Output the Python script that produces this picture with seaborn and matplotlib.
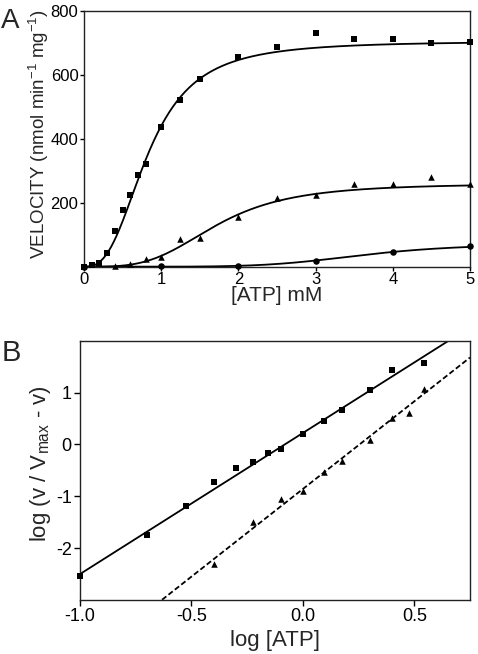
import numpy as np
import matplotlib
matplotlib.use("Agg")
import matplotlib.pyplot as plt
import seaborn as sns

# Panel A: velocity vs [ATP] (mM)
atp_sq = [0, 0.1, 0.2, 0.3, 0.4, 0.5, 0.6, 0.7, 0.8, 1.0, 1.25, 1.5, 2, 2.5, 3, 3.5, 4, 4.5, 5]
vel_sq = [0, 4, 12, 44, 112, 178, 225, 288, 321, 437, 521, 586, 655, 686, 729, 711, 712, 698, 702]
atp_tri = [0.4, 0.6, 0.8, 1.0, 1.25, 1.5, 2, 2.5, 3, 3.5, 4, 4.5, 5]
vel_tri = [2, 7, 23, 31, 86, 91, 155, 215, 225, 259, 259, 280, 257]
atp_circ = [0, 1, 2, 3, 4, 5]
vel_circ = [0, 1, 2, 18, 45, 64]

# Hill fit parameters (Vmax, K0.5, n) for the curves in A
fit_sq = (705, 0.83, 2.72)
fit_tri = (260, 1.72, 3.5)
fit_circ = (72, 3.6, 5.5)

# Panel B: Hill plot, log[ATP] vs log(v/(Vmax-v))
logatp_sq = [-1.0, -0.699, -0.523, -0.398, -0.301, -0.222, -0.155, -0.097, 0.0, 0.097, 0.176, 0.301, 0.398, 0.544]
hill_sq = [-2.54, -1.74, -1.18, -0.725, -0.46, -0.33, -0.17, -0.08, 0.21, 0.45, 0.67, 1.05, 1.44, 1.56]
logatp_tri = [-0.398, -0.222, -0.097, 0.0, 0.097, 0.176, 0.301, 0.398, 0.477, 0.544]
hill_tri = [-2.31, -1.49, -1.06, -0.90, -0.53, -0.32, 0.09, 0.51, 0.60, 1.06]

# linear fits (slope, intercept) for B
line_sq = (2.72, 0.22)
line_tri = (3.38, -0.86)

sns.set_style("ticks")
plt.rcParams['font.family'] = ['Liberation Sans', 'DejaVu Sans']
plt.rcParams['mathtext.fontset'] = 'custom'
plt.rcParams['mathtext.rm'] = 'Liberation Sans'
plt.rcParams['mathtext.it'] = 'Liberation Sans:italic'
plt.rcParams['axes.unicode_minus'] = False

fig = plt.figure(figsize=(4.78, 6.54), dpi=100)
axA = fig.add_axes([0.1757, 0.5922, 0.8075, 0.3914])
axB = fig.add_axes([0.1674, 0.0826, 0.8159, 0.3965])


def hill(x, p):
    vmax, k, n = p
    return vmax * x**n / (k**n + x**n)


xs = np.linspace(0, 5, 300)
for p in (fit_sq, fit_tri, fit_circ):
    sns.lineplot(x=xs, y=hill(xs, p), ax=axA, color='black', lw=1.3)

sns.scatterplot(x=atp_sq, y=vel_sq, ax=axA, marker='s', s=20, color='black', linewidth=0, clip_on=False, zorder=3)
sns.scatterplot(x=atp_tri, y=vel_tri, ax=axA, marker='^', s=22, color='black', linewidth=0, clip_on=False, zorder=3)
sns.scatterplot(x=atp_circ, y=vel_circ, ax=axA, marker='o', s=22, color='black', linewidth=0, clip_on=False, zorder=3)

axA.set_xlim(0, 5)
axA.set_ylim(0, 800)
axA.set_xticks([0, 1, 2, 3, 4, 5])
axA.set_yticks([200, 400, 600, 800])
axA.set_xlabel('[ATP] mM', fontsize=15)
axA.set_ylabel(r'VELOCITY (nmol min$^{-1}$ mg$^{-1}$)', fontsize=13.5)
axA.xaxis.set_label_coords(0.5, -0.075)
axA.yaxis.set_label_coords(-0.085, 0.52)
axA.tick_params(labelsize=12, length=3, pad=1)

xl = np.array([-1.0, 0.75])
sns.lineplot(x=xl, y=line_sq[0] * xl + line_sq[1], ax=axB, color='black', lw=1.3)
sns.lineplot(x=xl, y=line_tri[0] * xl + line_tri[1], ax=axB, color='black', lw=1.3, linestyle=(0, (3, 1.5)))
sns.scatterplot(x=logatp_sq, y=hill_sq, ax=axB, marker='s', s=20, color='black', linewidth=0, clip_on=False, zorder=3)
sns.scatterplot(x=logatp_tri, y=hill_tri, ax=axB, marker='^', s=22, color='black', linewidth=0, clip_on=False, zorder=3)

axB.set_xlim(-1.0, 0.75)
axB.set_ylim(-3, 2)
axB.set_xticks([-1.0, -0.5, 0.0, 0.5])
axB.set_xticklabels(['-1.0', '-0.5', '0.0', '0.5'])
axB.set_yticks([-2, -1, 0, 1])
axB.set_xlabel('log [ATP]', fontsize=16)
axB.set_ylabel(r'log (v / V$_{\mathrm{max}}$ - v)', fontsize=16)
axB.xaxis.set_label_coords(0.5, -0.115)
axB.yaxis.set_label_coords(-0.068, 0.525)
axB.tick_params(labelsize=13, length=4, pad=2)

for ax in (axA, axB):
    for sp in ax.spines.values():
        sp.set_visible(True)
        sp.set_color('#222222')
        sp.set_linewidth(1.0)
    ax.tick_params(direction='out', width=1, colors='black')

fig.text(0.003, 0.968, 'A', fontsize=20, va='center', ha='left')
fig.text(0.003, 0.461, 'B', fontsize=21, va='center', ha='left')

fig.savefig('out.png', dpi=100)
